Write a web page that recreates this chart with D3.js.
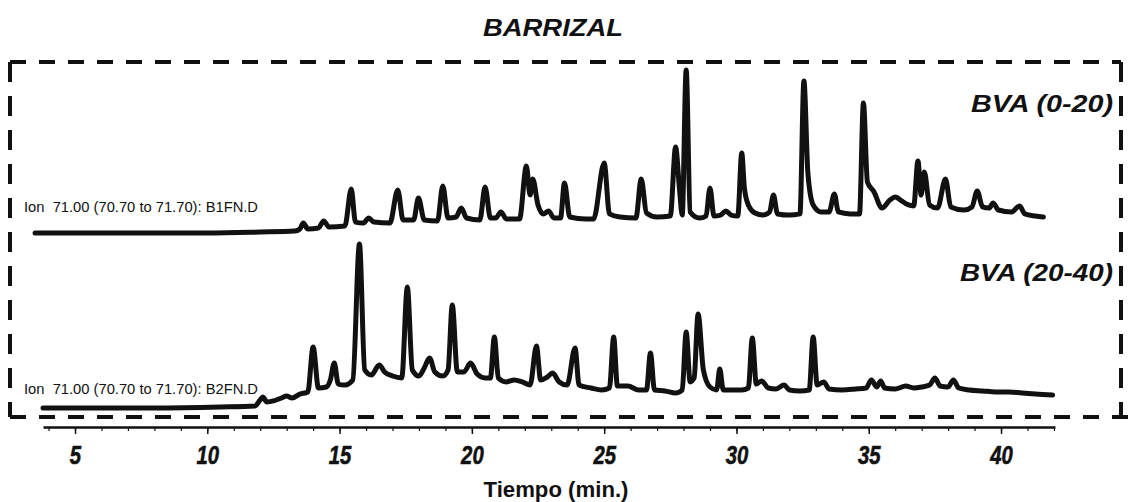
<html>
  <head>
    <title>BARRIZAL</title>
    <style>
      body { margin: 0; background: #fff; }
      svg text { font-family: "Liberation Sans", Arial, sans-serif; fill: #111; }
    </style>
  </head>
  <body>
    <div id="vis"></div>
    <script src="https://d3js.org/d3.v7.min.js"></script>
    <script>
      const b1fn = [[3.49,0],[10,0],[12,0.6],[13.3,1.2],[13.5,2.5],[13.63,6.1],[13.8,2.5],[14.2,3.1],[14.4,7.4],[14.6,3.7],[15.2,4.3],[15.44,27.0],[15.6,6.7],[15.9,6.1],[16.1,9.2],[16.3,6.7],[16.9,6.1],[17.2,26.4],[17.4,8.0],[17.8,8.0],[17.98,21.5],[18.2,8.0],[18.7,7.4],[18.9,28.8],[19.1,9.2],[19.4,9.8],[19.6,15.3],[19.8,9.2],[20.3,8.0],[20.5,28.2],[20.7,9.2],[20.9,9.2],[21.1,12.9],[21.3,8.6],[21.8,8.6],[22.06,41.1],[22.2,23.3],[22.3,33.1],[22.5,17.2],[22.7,11.7],[22.9,13.5],[23.1,9.2],[23.35,9.2],[23.5,30.7],[23.7,9.8],[24.3,8.6],[24.6,8.6],[25.0,42.9],[25.2,11.7],[25.6,9.8],[26.2,9.2],[26.4,33.1],[26.6,12.3],[27.0,9.8],[27.5,10.4],[27.7,52.8],[27.85,26.4],[27.95,11.0],[28.1,100],[28.25,12.9],[28.6,9.2],[28.85,10.4],[29.0,27.6],[29.15,10.4],[29.4,11.0],[29.6,13.5],[29.8,11.0],[30.05,10.4],[30.2,49.1],[30.3,27.6],[30.45,17.2],[30.7,12.3],[31.0,11.0],[31.25,12.9],[31.4,23.3],[31.55,11.7],[32.0,11.0],[32.4,11.7],[32.55,93.3],[32.7,36.8],[32.9,17.2],[33.2,12.9],[33.5,12.9],[33.7,23.9],[33.85,12.9],[34.3,11.7],[34.65,11.7],[34.8,79.8],[34.95,31.3],[35.2,25.2],[35.5,15.3],[35.8,20.2],[36.0,22.1],[36.2,20.2],[36.5,17.2],[36.7,16.6],[36.86,44.2],[36.98,23.3],[37.1,37.4],[37.3,17.2],[37.6,15.3],[37.9,33.1],[38.1,16.0],[38.6,14.1],[38.9,16.0],[39.1,25.8],[39.3,16.0],[39.55,15.3],[39.7,18.4],[39.9,14.1],[40.4,12.9],[40.7,16.6],[40.9,11.7],[41.3,10.4],[41.6,9.8]]

      const b2fn = [[3.79,0],[8,0],[10.5,0.6],[11.8,1.2],[12.0,4.9],[12.1,6.7],[12.25,3.7],[12.5,4.3],[12.8,6.1],[13.0,7.3],[13.2,6.1],[13.5,8.5],[13.8,9.8],[14.0,37.2],[14.2,12.2],[14.5,12.8],[14.65,17.1],[14.8,27.4],[14.95,14.6],[15.2,14.0],[15.5,17.1],[15.75,100],[15.95,23.2],[16.2,20.1],[16.5,26.2],[16.7,22.0],[17.0,19.5],[17.35,18.3],[17.56,73.8],[17.75,23.2],[18.0,19.5],[18.2,24.4],[18.4,30.5],[18.6,22.0],[18.9,19.5],[19.1,23.2],[19.26,62.8],[19.45,22.0],[19.7,22.0],[19.95,27.4],[20.2,20.7],[20.5,18.3],[20.7,18.3],[20.85,43.3],[21.0,18.3],[21.3,15.9],[21.6,17.1],[21.9,15.9],[22.2,14.0],[22.44,37.8],[22.6,17.1],[22.85,18.9],[23.05,21.3],[23.3,15.9],[23.6,14.0],[23.9,36.6],[24.05,14.0],[24.5,12.2],[24.9,11.0],[25.2,12.2],[25.36,43.3],[25.5,13.4],[25.9,13.4],[26.3,11.0],[26.6,11.0],[26.75,33.5],[26.9,11.0],[27.3,10.4],[27.7,9.1],[27.95,11.0],[28.1,46.3],[28.25,15.9],[28.4,18.3],[28.55,57.3],[28.75,23.2],[29.0,12.8],[29.25,11.0],[29.37,23.8],[29.5,11.0],[29.9,11.0],[30.2,11.0],[30.45,12.2],[30.6,42.7],[30.75,14.6],[30.95,16.5],[31.2,12.2],[31.5,11.6],[31.8,14.0],[32.0,11.0],[32.4,10.4],[32.75,11.0],[32.9,43.3],[33.05,14.0],[33.3,15.9],[33.5,11.6],[34.0,11.0],[34.5,11.6],[34.9,12.2],[35.1,17.1],[35.3,12.8],[35.45,16.5],[35.6,12.2],[36.0,11.6],[36.4,13.4],[36.7,12.2],[37.0,12.8],[37.3,14.0],[37.5,18.3],[37.7,13.4],[38.0,12.8],[38.2,17.1],[38.4,12.2],[38.8,11.0],[39.3,10.4],[39.8,9.8],[40.3,9.8],[40.8,9.1],[41.3,8.5],[41.95,7.9]]

      const tickLabels = [5, 10, 15, 20, 25, 30, 35, 40]
      const minorTicks = d3.range(4, 43)
      const ionLabels = ['Ion  71.00 (70.70 to 71.70): B1FN.D', 'Ion  71.00 (70.70 to 71.70): B2FN.D']
      const sampleLabels = ['BVA (0-20)', 'BVA (20-40)']

      const svg_width = 1132,
            svg_height = 502

      const svg = d3.select('#vis').append('svg')
              .attr('width', svg_width)
              .attr('height', svg_height)

      const x = d3.scaleLinear().domain([3.79, 42.04]).range([43, 1055])
      const yTop = d3.scaleLinear().domain([0, 100]).range([233, 70])
      const yBot = d3.scaleLinear().domain([0, 100]).range([408, 244])

      // título
      svg.append('text')
              .text('BARRIZAL')
              .attr('x', 553).attr('y', 36)
              .attr('text-anchor', 'middle')
              .attr('font-size', 23)
              .attr('font-weight', 'bold')
              .attr('font-style', 'italic')
              .attr('textLength', 140)
              .attr('lengthAdjust', 'spacingAndGlyphs')

      // recuadro discontinuo
      const box = svg.append('g')
              .attr('stroke', '#111')
              .attr('stroke-width', 4)
              .attr('fill', 'none')
      box.append('line').attr('x1', 10).attr('x2', 1121).attr('y1', 62).attr('y2', 62).attr('stroke-dasharray', '16 13')
      box.append('line').attr('x1', 10).attr('x2', 1128).attr('y1', 417).attr('y2', 417).attr('stroke-dasharray', '16 13')
      box.append('line').attr('x1', 10).attr('x2', 10).attr('y1', 62).attr('y2', 417).attr('stroke-dasharray', '20 14')
      box.append('line').attr('x1', 1121).attr('x2', 1121).attr('y1', 62).attr('y2', 417).attr('stroke-dasharray', '20 14')

      // cromatogramas
      const traces = [
        {data: b1fn, y: yTop},
        {data: b2fn, y: yBot}
      ]
      svg.selectAll('path.trace')
              .data(traces)
              .join('path')
              .attr('class', 'trace')
              .attr('fill', 'none')
              .attr('stroke', '#111')
              .attr('stroke-width', 5)
              .attr('stroke-linejoin', 'round')
              .attr('stroke-linecap', 'round')
              .attr('d', (d) => {
                return d3.line().curve(d3.curveMonotoneX).x(p => x(p[0])).y(p => d.y(p[1]))(d.data)
              })

      // etiquetas de ion
      svg.selectAll('text.ion')
              .data(ionLabels)
              .join('text')
              .attr('class', 'ion')
              .text(d => d)
              .attr('x', 24)
              .attr('y', (d, i) => i === 0 ? yTop(0) - 21 : yBot(0) - 14)
              .attr('font-size', 14)
              .attr('textLength', 234)
              .attr('lengthAdjust', 'spacingAndGlyphs')
              .style('white-space', 'pre')

      svg.selectAll('text.sample')
              .data(sampleLabels)
              .join('text')
              .attr('class', 'sample')
              .text(d => d)
              .attr('x', 1113)
              .attr('y', (d, i) => i === 0 ? 112 : 281)
              .attr('text-anchor', 'end')
              .attr('font-size', 24)
              .attr('font-weight', 'bold')
              .attr('font-style', 'italic')
              .attr('textLength', (d, i) => i === 0 ? 142 : 153)
              .attr('lengthAdjust', 'spacingAndGlyphs')

      // eje de tiempo
      const axisY = 427
      svg.append('g')
              .attr('transform', 'translate(0,' + axisY + ')')
              .call(d3.axisBottom(x).tickValues(minorTicks).tickSize(4).tickFormat(''))
              .call(g => g.select('.domain').remove())
              .selectAll('line').attr('stroke', '#111').attr('stroke-width', 1.2)

      const axis = svg.append('g')
              .attr('transform', 'translate(0,' + axisY + ')')
              .call(d3.axisBottom(x).tickValues(tickLabels).tickSize(7).tickSizeOuter(0).tickPadding(12))
      axis.select('.domain').attr('stroke', '#111').attr('stroke-width', 2.5)
      axis.selectAll('.tick line').attr('stroke', '#111').attr('stroke-width', 1.5)
      axis.selectAll('.tick text')
              .attr('fill', '#111')
              .attr('stroke', '#111')
              .attr('stroke-width', 0.6)
              .attr('font-size', 26)
              .attr('font-weight', 'bold')
              .attr('font-style', 'italic')
              .attr('font-family', '"Liberation Sans", Arial, sans-serif')
              .attr('transform', 'scale(0.78,1)')

      svg.append('text')
              .text('Tiempo (min.)')
              .attr('x', 556).attr('y', 497)
              .attr('text-anchor', 'middle')
              .attr('font-size', 22)
              .attr('font-weight', 'bold')
              .attr('textLength', 145)
              .attr('lengthAdjust', 'spacingAndGlyphs')
    </script>
  </body>
</html>
